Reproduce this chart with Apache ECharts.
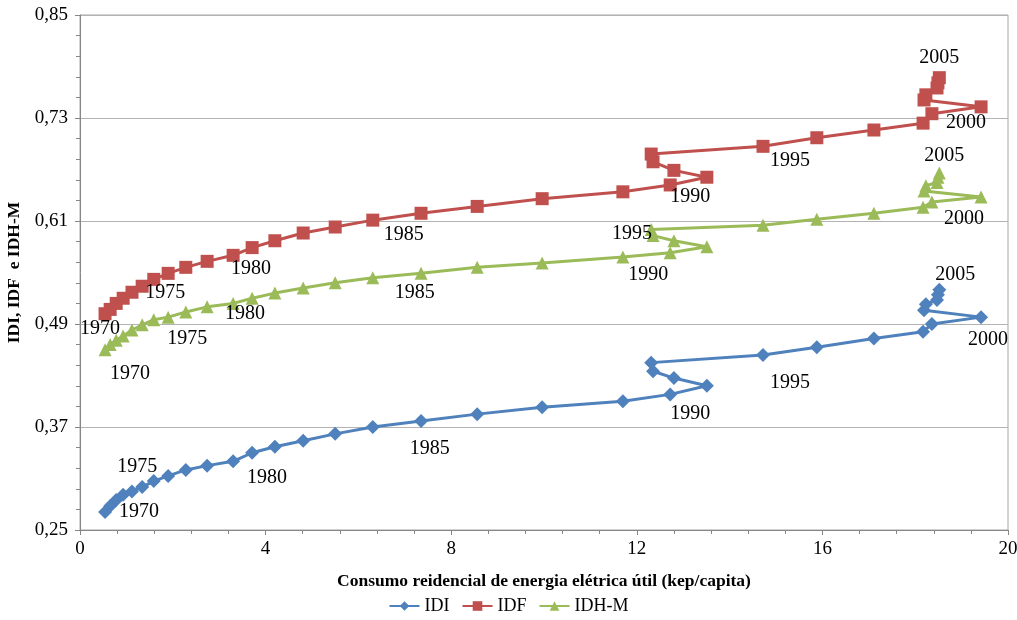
<!DOCTYPE html>
<html>
<head>
<meta charset="utf-8">
<script src="https://cdn.jsdelivr.net/npm/echarts@6/dist/echarts.min.js"></script>
<style>
  html, body { margin: 0; padding: 0; background: #fff; }
  #chart { width: 1017px; height: 620px; }
</style>
</head>
<body>
<div id="chart"></div>
<script>
// anos 1970..2005
const years = Array.from({ length: 36 }, (_, i) => 1970 + i)

// consumo residencial (kep/capita) - eixo x, comum às três séries
const consumo = [
  0.54, 0.65, 0.78, 0.93, 1.12, 1.34, 1.59, 1.90, 2.28, 2.74,
  3.30, 3.71, 4.20, 4.81, 5.50, 6.31, 7.35, 8.56, 9.96, 11.70,
  12.72, 13.51, 12.80, 12.35, 12.31, 14.72, 15.88, 17.11, 18.17, 18.36,
  19.42, 18.19, 18.23, 18.47, 18.49, 18.52
]

const idi = [
  0.271, 0.278, 0.285, 0.291, 0.295, 0.300, 0.307, 0.313, 0.320, 0.325,
  0.330, 0.340, 0.347, 0.354, 0.362, 0.370, 0.377, 0.385, 0.393, 0.400,
  0.408, 0.418, 0.427, 0.435, 0.445, 0.454, 0.463, 0.473, 0.481, 0.490,
  0.498, 0.506, 0.513, 0.518, 0.524, 0.530
]

const idf = [
  0.502, 0.507, 0.514, 0.520, 0.527, 0.534, 0.542, 0.549, 0.556, 0.563,
  0.570, 0.579, 0.587, 0.596, 0.603, 0.611, 0.619, 0.627, 0.636, 0.644,
  0.652, 0.661, 0.669, 0.679, 0.688, 0.697, 0.707, 0.716, 0.724, 0.735,
  0.743, 0.751, 0.757, 0.765, 0.771, 0.777
]

const idhm = [
  0.460, 0.466, 0.471, 0.476, 0.483, 0.489, 0.495, 0.498, 0.504, 0.510,
  0.514, 0.520, 0.526, 0.532, 0.538, 0.544, 0.549, 0.556, 0.561, 0.568,
  0.573, 0.580, 0.587, 0.593, 0.600, 0.605, 0.612, 0.619, 0.626, 0.632,
  0.638, 0.645, 0.651, 0.655, 0.661, 0.666
]

const xTicks = [0, 4, 8, 12, 16, 20]
const yTicks = [0.25, 0.37, 0.49, 0.61, 0.73, 0.85]

// deslocamento dos rótulos de ano (px) em relação ao ponto
const labelOffsets = {
  IDI: { 1970: [34, 0], 1975: [-5, -20], 1980: [34, 16], 1985: [57, 22], 1990: [20, 19], 1995: [27, 28], 2000: [7, 23], 2005: [16, -15] },
  IDF: { 1970: [-5, 15], 1975: [23, 7], 1980: [18, 13], 1985: [31, 15], 1990: [20, 12], 1995: [27, 14], 2000: [-15, 16], 2005: [0, -20] },
  'IDH-M': { 1970: [25, 24], 1975: [45, 14], 1980: [12, 10], 1985: [42, 15], 1990: [-22, 22], 1995: [-131, 8], 2000: [-17, 22], 2005: [5, -17] }
}

const Y0 = yTicks[0]
const serif = '"Liberation Serif", "Times New Roman", serif'

const buildData = (name, values) => values.map((v, i) => {
  const year = years[i]
  const off = labelOffsets[name][year]
  const item = { value: [consumo[i], v - Y0] }
  if (off) {
    item.label = {
      show: true,
      position: 'inside',
      offset: off,
      formatter: String(year),
      color: '#000',
      fontFamily: serif,
      fontSize: 20
    }
  }
  return item
})

const makeSeries = (name, values, color, symbol, size) => ({
  name,
  type: 'line',
  data: buildData(name, values),
  symbol,
  symbolSize: size,
  showAllSymbol: true,
  itemStyle: { color },
  lineStyle: { color, width: 3 },
  label: { show: false },
  emphasis: { disabled: true },
  animation: false
})

const chart = echarts.init(document.getElementById('chart'))

chart.setOption({
  backgroundColor: '#fff',
  animation: false,
  grid: {
    left: 80,
    right: 9,
    top: 15,
    bottom: 90,
    outerBoundsMode: 'none',
    containLabel: false,
    show: true,
    borderColor: '#a6a6a6',
    borderWidth: 1
  },
  legend: {
    bottom: 0,
    left: 'center',
    itemWidth: 30,
    itemHeight: 12,
    itemGap: 12,
    textStyle: { fontFamily: serif, fontSize: 18, color: '#000' },
    data: ['IDI', 'IDF', 'IDH-M']
  },
  xAxis: {
    type: 'value',
    min: xTicks[0],
    max: xTicks[xTicks.length - 1],
    interval: xTicks[1] - xTicks[0],
    name: 'Consumo reidencial de energia elétrica útil (kep/capita)',
    nameLocation: 'middle',
    nameGap: 42,
    nameTextStyle: { fontFamily: serif, fontSize: 17.5, fontWeight: 'bold', color: '#000' },
    axisLine: { show: true, lineStyle: { color: '#868686', width: 1 } },
    axisTick: { show: true, length: 5, lineStyle: { color: '#868686' } },
    minorTick: { show: true, splitNumber: 5, length: 4, lineStyle: { color: '#868686' } },
    axisLabel: { fontFamily: serif, fontSize: 19, color: '#000', margin: 10 },
    splitLine: { show: false }
  },
  yAxis: {
    type: 'value',
    min: 0,
    max: yTicks[yTicks.length - 1] - Y0,
    interval: yTicks[1] - yTicks[0],
    name: 'IDI, IDF  e IDH-M',
    nameLocation: 'middle',
    nameGap: 52,
    nameTextStyle: { fontFamily: serif, fontSize: 17.5, fontWeight: 'bold', color: '#000' },
    axisLine: { show: true, lineStyle: { color: '#868686', width: 1 } },
    axisTick: { show: true, length: 5, lineStyle: { color: '#868686' } },
    minorTick: { show: true, splitNumber: 5, length: 4, lineStyle: { color: '#868686' } },
    axisLabel: {
      fontFamily: serif,
      fontSize: 19,
      color: '#000',
      margin: 12,
      formatter: v => (v + Y0).toFixed(2).replace('.', ',')
    },
    splitLine: { show: true, lineStyle: { color: '#b3b3b3', width: 1 } }
  },
  series: [
    makeSeries('IDI', idi, '#4f81bd', 'diamond', 14),
    makeSeries('IDF', idf, '#c0504d', 'rect', 13),
    makeSeries('IDH-M', idhm, '#9bbb59', 'triangle', 13)
  ]
})
</script>
</body>
</html>
